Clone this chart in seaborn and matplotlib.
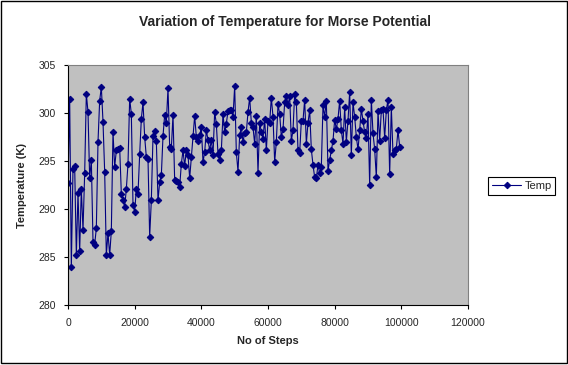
import numpy as np
import pandas as pd
import matplotlib
matplotlib.use("Agg")
import matplotlib.pyplot as plt
from matplotlib.patches import Rectangle
import seaborn as sns

temp = [
    292.7, 301.5, 284.0, 294.2, 294.5, 285.2, 291.7, 285.6, 292.1, 287.8,
    293.7, 302.0, 300.1, 293.2, 295.1, 286.6, 286.3, 288.0, 297.0, 301.3,
    302.7, 299.1, 293.9, 285.2, 287.5, 285.2, 287.7, 298.0, 294.4, 296.1,
    296.3, 296.4, 291.6, 290.9, 290.2, 292.1, 294.7, 301.5, 299.9, 290.4,
    289.7, 292.1, 291.6, 295.7, 299.4, 301.1, 297.5, 295.4, 295.2, 287.1,
    290.9, 297.6, 298.1, 297.1, 290.9, 292.8, 293.5, 297.6, 299.8, 299.0,
    302.6, 296.5, 296.3, 299.8, 293.0, 292.9, 292.8, 292.3, 294.7, 296.1,
    294.5, 296.1, 295.6, 293.2, 295.4, 297.6, 299.7, 297.5, 297.1, 297.7,
    298.5, 294.9, 295.9, 298.2, 297.2, 296.1, 297.2, 295.6, 300.1, 298.9,
    295.7, 295.1, 296.1, 299.9, 298.0, 298.9, 300.2, 300.3, 300.3, 299.6,
    302.8, 295.9, 293.9, 297.7, 298.5, 297.0, 297.9, 298.0, 300.1, 301.6,
    299.0, 298.5, 296.8, 299.7, 293.8, 299.0, 298.0, 297.3, 299.4, 296.1,
    299.2, 299.0, 301.6, 299.6, 294.9, 297.0, 300.9, 299.9, 297.5, 298.3,
    301.1, 301.8, 300.8, 301.8, 297.1, 298.2, 302.0, 301.1, 296.1, 295.8,
    299.2, 299.2, 301.4, 296.8, 299.0, 300.3, 296.2, 294.6, 293.3, 293.2,
    294.6, 293.7, 294.4, 300.8, 299.6, 301.3, 294.0, 295.1, 296.1, 297.1,
    299.3, 298.3, 299.4, 301.3, 298.2, 296.8, 300.6, 297.0, 299.2, 302.2,
    295.6, 301.1, 299.6, 297.5, 296.2, 298.2, 300.4, 299.2, 298.0, 297.4,
    299.9, 292.5, 301.4, 297.9, 296.2, 293.3, 300.2, 297.1, 300.3, 300.4,
    297.4, 300.3, 301.4, 293.6, 300.6, 295.7, 296.1, 296.3, 298.2, 296.5,
]
steps = list(range(0, 500 * len(temp), 500))

x_ticks = [0, 20000, 40000, 60000, 80000, 100000, 120000]
y_ticks = [280, 285, 290, 295, 300, 305]

title = "Variation of Temperature for Morse Potential"
x_label = "No of Steps"
y_label = "Temperature (K)"
series_name = "Temp"

df = pd.DataFrame({"steps": steps, "temp": temp, "series": series_name})

sns.set_style("white")
plt.rcParams["font.family"] = ["Liberation Sans", "DejaVu Sans"]

fig = plt.figure(figsize=(5.68, 3.65), dpi=100)
ax = fig.add_axes([68 / 568, 1 - 305 / 365, 400 / 568, 240 / 365])
ax.set_facecolor("#C0C0C0")

sns.lineplot(data=df, x="steps", y="temp", hue="series", palette=["#000080"],
             marker="D", markersize=3.3, markeredgecolor="#000080",
             linewidth=0.8, ax=ax)

ax.set_xlim(0, 120000)
ax.set_ylim(280, 305)
ax.set_xticks(x_ticks)
ax.set_yticks(y_ticks)
ax.set_xticklabels([str(t) for t in x_ticks], fontsize=7.5)
ax.set_yticklabels([str(t) for t in y_ticks], fontsize=7.5)
ax.tick_params(axis="both", direction="out", length=3, width=0.8, color="black",
               pad=6, left=True, bottom=True)

for side in ["top", "right"]:
    ax.spines[side].set_color("#808080")
    ax.spines[side].set_linewidth(0.8)
for side in ["left", "bottom"]:
    ax.spines[side].set_color("black")
    ax.spines[side].set_linewidth(0.8)

ax.set_xlabel(x_label, fontsize=8, fontweight="bold", labelpad=6)
ax.set_ylabel(y_label, fontsize=8, fontweight="bold", labelpad=8)
fig.text(285 / 568, 1 - 22 / 365, title, ha="center", va="center",
         fontsize=10, fontweight="bold")

handles, labels = ax.get_legend_handles_labels()
ax.legend(handles, labels, loc="center left", bbox_to_anchor=(486 / 568, 1 - 186 / 365),
          bbox_transform=fig.transFigure, frameon=True, fancybox=False,
          edgecolor="black", fontsize=8, handlelength=2.6, handletextpad=0.3,
          borderpad=0.35, borderaxespad=0.2, framealpha=1)
ax.get_legend().get_frame().set_linewidth(0.8)

fig.patches.append(Rectangle((0.5 / 568, 2 / 365), 566 / 568, 362 / 365,
                             transform=fig.transFigure, fill=False,
                             edgecolor="black", linewidth=1.0))

fig.savefig("out.png", dpi=100, facecolor="white")
